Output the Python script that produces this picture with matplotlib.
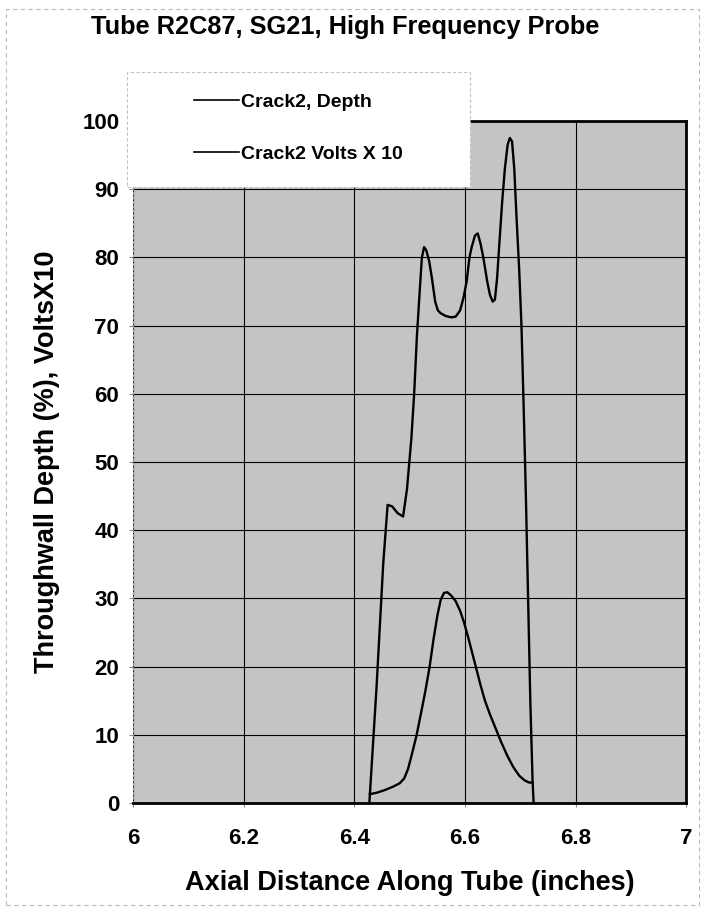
import matplotlib
matplotlib.use("Agg")
import matplotlib.pyplot as plt
from matplotlib.patches import Rectangle

plt.rcParams['font.family'] = ['Liberation Sans', 'DejaVu Sans']
plt.rcParams['font.weight'] = 'bold'

# Crack2, Depth (% throughwall)
depth_x = [6.427, 6.440, 6.452, 6.460, 6.468, 6.478, 6.488, 6.495, 6.503, 6.508,
           6.513, 6.518, 6.522, 6.526, 6.530, 6.535, 6.540, 6.546, 6.551, 6.556,
           6.565, 6.575, 6.583, 6.591, 6.597, 6.603, 6.608, 6.612, 6.618, 6.623,
           6.628, 6.633, 6.640, 6.645, 6.650, 6.654, 6.658, 6.662, 6.667, 6.672,
           6.677, 6.681, 6.685, 6.689, 6.693, 6.698, 6.702, 6.706, 6.710, 6.714,
           6.718, 6.722, 6.724]
depth_y = [0.0, 17.0, 35.0, 43.7, 43.5, 42.5, 42.0, 46.0, 53.5, 60.0,
           68.5, 75.0, 80.0, 81.5, 81.0, 79.5, 77.0, 73.5, 72.2, 71.8,
           71.4, 71.2, 71.3, 72.2, 74.0, 76.5, 80.0, 81.5, 83.2, 83.5,
           82.0, 80.0, 76.5, 74.5, 73.5, 73.8, 77.0, 82.0, 88.0, 93.0,
           96.5, 97.5, 97.0, 93.0, 86.0, 78.0, 70.0, 58.0, 45.0, 30.0,
           15.0, 3.5, 0.0]

# Crack2 Volts X 10
volts_x = [6.428, 6.440, 6.455, 6.470, 6.482, 6.490, 6.497, 6.504, 6.512, 6.520,
           6.528, 6.536, 6.543, 6.550, 6.556, 6.562, 6.568, 6.575, 6.583, 6.591,
           6.598, 6.605, 6.612, 6.620, 6.628, 6.636, 6.645, 6.655, 6.665, 6.676,
           6.687, 6.698, 6.708, 6.716, 6.722]
volts_y = [1.3, 1.5, 1.9, 2.4, 2.9, 3.6, 5.0, 7.2, 9.8, 13.0,
           16.3, 20.0, 24.0, 27.5, 29.8, 30.8, 30.9, 30.4, 29.6, 28.2,
           26.5, 24.5, 22.3, 19.8, 17.3, 15.0, 13.0, 11.0, 9.0, 7.0,
           5.3, 4.0, 3.3, 3.0, 3.0]

x_ticks = [6, 6.2, 6.4, 6.6, 6.8, 7]
x_tick_labels = ['6', '6.2', '6.4', '6.6', '6.8', '7']
y_ticks = [0, 10, 20, 30, 40, 50, 60, 70, 80, 90, 100]

fig = plt.figure(figsize=(7.01, 9.09), dpi=100)
ax = fig.add_axes([0.19, 0.1166, 0.789, 0.7504])
ax.set_facecolor('#c4c4c4')

line_depth, = ax.plot(depth_x, depth_y, color='black', lw=1.7, zorder=3)
line_volts, = ax.plot(volts_x, volts_y, color='black', lw=1.7, zorder=3)

ax.set_xlim(6, 7)
ax.set_ylim(0, 100)
ax.set_xticks(x_ticks)
ax.set_xticklabels(x_tick_labels)
ax.set_yticks(y_ticks)
ax.grid(True, color='black', lw=0.8, zorder=1)
ax.set_axisbelow(True)
ax.tick_params(axis='both', labelsize=16, length=3, color='#888888')
ax.tick_params(axis='x', pad=15)
ax.tick_params(axis='y', pad=7)

for side in ['bottom', 'right', 'top']:
    ax.spines[side].set_linewidth(2.0)
    ax.spines[side].set_color('black')
ax.spines['left'].set_color('#999999')
ax.spines['left'].set_linewidth(0.8)
ax.spines['left'].set_linestyle((0, (2, 2)))

ax.set_xlabel('Axial Distance Along Tube (inches)', fontsize=19.5, fontweight='bold', labelpad=15)
ax.set_ylabel('Throughwall Depth (%), VoltsX10', fontsize=19.5, fontweight='bold', labelpad=16)
fig.text(0.493, 0.970, 'Tube R2C87, SG21, High Frequency Probe', ha='center', va='center',
         fontsize=18.3, fontweight='bold')

# white legend box laid over the top left of the plot
box = Rectangle((0.181, 0.794), 0.489, 0.127, transform=fig.transFigure,
                facecolor='white', edgecolor='#c0c0c0', lw=0.8, linestyle=(0, (3, 2)), zorder=5)
fig.add_artist(box)
leg = fig.legend([line_depth, line_volts], ['Crack2, Depth', 'Crack2 Volts X 10'],
                 loc='upper left', bbox_to_anchor=(0.277, 0.8976), frameon=False,
                 prop={'size': 14, 'weight': 'bold'}, handlelength=2.3,
                 handletextpad=0.1, labelspacing=1.8, borderpad=0, borderaxespad=0)
for h in leg.get_lines():
    h.set_linewidth(1.2)
leg.set_zorder(6)

# faint dashed border round the page
page = Rectangle((0.008, 0.004), 0.989, 0.986, transform=fig.transFigure, fill=False,
                 edgecolor='#bbbbbb', lw=0.8, linestyle=(0, (4, 3)), zorder=0)
fig.add_artist(page)

fig.savefig('out.png', dpi=100)
